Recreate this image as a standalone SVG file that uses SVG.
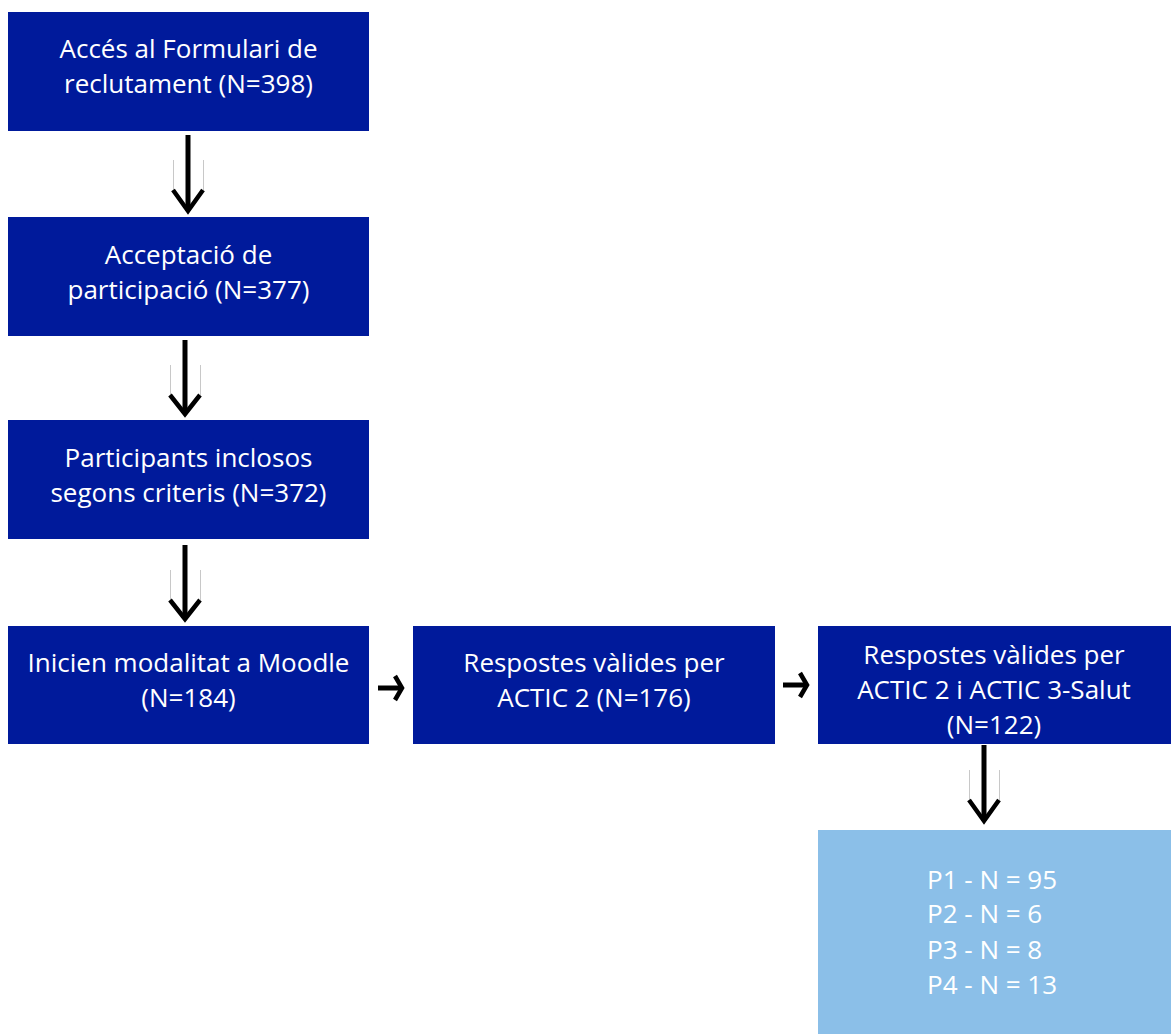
<svg xmlns="http://www.w3.org/2000/svg" width="1171" height="1034" viewBox="0 0 1171 1034">
<style>
.box{fill:#001a9b}
.lbox{fill:#8bbfe8}
.t{font-family:"Open Sans","Liberation Sans",sans-serif;font-size:26px;fill:#ffffff;text-anchor:middle}
.tl{font-family:"Open Sans","Liberation Sans",sans-serif;font-size:26px;fill:#ffffff;text-anchor:start}
.ln{stroke:#000;stroke-width:5;fill:none}
.hd{stroke:#000;stroke-width:4.5;fill:none;stroke-linejoin:miter}
.gh{stroke:#c8c8c8;stroke-width:1;fill:none}
</style>
<rect width="1171" height="1034" fill="#ffffff"/>
<g id="node1"><rect class="box" x="8" y="12" width="361" height="119"/>
<text class="t" x="188.5" y="58">Accés al Formulari de</text>
<text class="t" x="188.5" y="93">reclutament (N=398)</text></g>
<g id="node2"><rect class="box" x="8" y="217" width="361" height="119"/>
<text class="t" x="188.5" y="264">Acceptació de</text>
<text class="t" x="188.5" y="299">participació (N=377)</text></g>
<g id="node3"><rect class="box" x="8" y="420" width="361" height="119"/>
<text class="t" x="188.5" y="467">Participants inclosos</text>
<text class="t" x="188.5" y="502">segons criteris (N=372)</text></g>
<g id="node4"><rect class="box" x="8" y="626" width="361" height="118"/>
<text class="t" x="188.5" y="672">Inicien modalitat a Moodle</text>
<text class="t" x="188.5" y="707">(N=184)</text></g>
<g id="node5"><rect class="box" x="413" y="626" width="362" height="118"/>
<text class="t" x="594" y="672">Respostes vàlides per</text>
<text class="t" x="594" y="707">ACTIC 2 (N=176)</text></g>
<g id="node6"><rect class="box" x="818" y="626" width="353" height="118"/>
<text class="t" x="994" y="664">Respostes vàlides per</text>
<text class="t" x="994" y="699">ACTIC 2 i ACTIC 3-Salut</text>
<text class="t" x="994" y="734">(N=122)</text></g>
<g id="node7"><rect class="lbox" x="818" y="830" width="353" height="204"/>
<text class="tl" x="927" y="889">P1 - N = 95</text>
<text class="tl" x="927" y="923">P2 - N = 6</text>
<text class="tl" x="927" y="959">P3 - N = 8</text>
<text class="tl" x="927" y="994">P4 - N = 13</text></g>
<g id="connectors">
<path class="gh" d="M173.5 160V190M203.5 160V190"/>
<path class="ln" d="M188 135V211"/><path class="hd" d="M173 190L188 211L203 190"/>
<path class="gh" d="M170.5 365V395M200.5 365V395"/>
<path class="ln" d="M185 340V414"/><path class="hd" d="M170 395L185 414L200 395"/>
<path class="gh" d="M170.5 570V600M200.5 570V600"/>
<path class="ln" d="M185 545V619"/><path class="hd" d="M170 600L185 619L200 600"/>
<path class="gh" d="M969.5 770V800M999.5 770V800"/>
<path class="ln" d="M984 745V821"/><path class="hd" d="M969 800L984 821L999 800"/>
<path class="ln" d="M378 688H401"/><path class="hd" d="M395 676L402 688L395 700"/>
<path class="ln" d="M783 685H806"/><path class="hd" d="M800 673L807 685L800 697"/>
</g>
</svg>
